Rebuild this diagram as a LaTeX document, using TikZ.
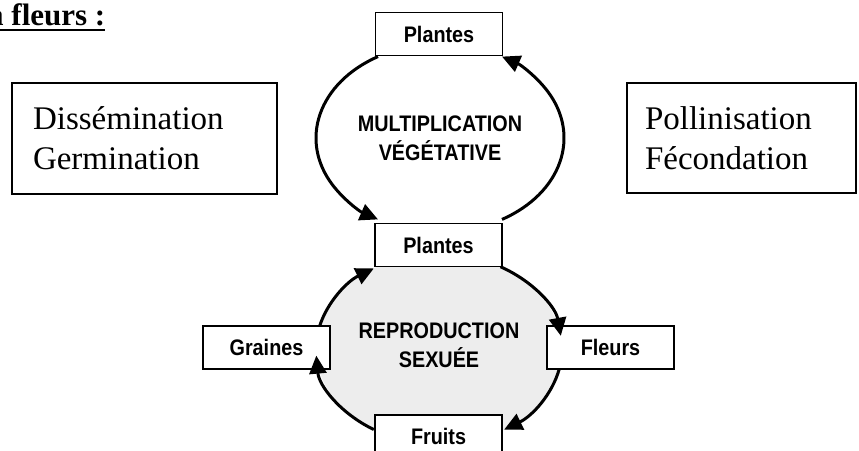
\documentclass[tikz,border=0pt]{standalone}
\usepackage{fontspec}
\setmainfont{Liberation Serif}
\newfontfamily\arialfont[FakeStretch=0.88]{Liberation Sans}
\usepackage{xcolor}
\usepackage{tikz}
\usetikzlibrary{arrows.meta}
\usetikzlibrary{calc}
\usetikzlibrary{positioning}
\definecolor{fond}{RGB}{237,237,237}

\tikzset{
	etape/.style={draw,line width=1.5,fill=white,minimum width=127,minimum height=43,inner sep=0,font=\arialfont\bfseries\fontsize{22.5}{26}\selectfont},
	texte/.style={draw,line width=1.5,align=left,inner xsep=0,font=\fontsize{33}{40}\selectfont},
	cycletitre/.style={align=center,inner sep=0,font=\arialfont\bfseries\fontsize{22.5}{29}\selectfont},
	fleche/.style={line width=3,-{Triangle[length=18pt,width=17pt]}}
}

\begin{document}
\begin{tikzpicture}[x=1pt,y=-1pt]
	\useasboundingbox (0,0) rectangle (859,450);
	
	\coordinate (CH) at (440,138);
	\coordinate (CB) at (439,349);
	\fill[fond] (CB) ellipse[x radius=123,y radius=95];
	
	\node[anchor=base west,inner sep=0,font=\bfseries\fontsize{31}{36}\selectfont] (titre) at (-12,25) {a fleurs :};
	\draw[line width=2.5] ([yshift=-5pt]titre.base west) -- ([yshift=-5pt]titre.base east);
	
	\node[texte,text width=223,minimum width=265,minimum height=111] (dissem) at (144.5,138.5) {Dissémination\\Germination};
	\node[texte,text width=193,minimum width=229,minimum height=110] (pollin) at (741.5,138) {Pollinisation\\Fécondation};
	
	\node[etape] (plantesH) at (439,34) {Plantes};
	\node[etape] (plantesB) at (438.5,245) {Plantes};
	\node[etape] (graines) at (266.5,347.5) {Graines};
	\node[etape] (fleurs) at (610.5,347.5) {Fleurs};
	\node[etape] (fruits) at (438.5,436.5) {Fruits};
	
	\node[cycletitre] (multi) at (CH) {MULTIPLICATION\\VÉGÉTATIVE};
	\node[cycletitre] (repro) at (439,345) {REPRODUCTION\\SEXUÉE};
	
	% multiplication vegetative
	\draw[fleche] ($(CH)+(240:124 and 94)$) arc[start angle=240,end angle=120,x radius=124,y radius=94];
	\draw[fleche] ($(CH)+(60:124 and 94)$) arc[start angle=60,end angle=-60,x radius=124,y radius=94];
	
	% reproduction sexuee
	\draw[fleche] ($(CB)+(-60:123 and 95)$) arc[start angle=-60,end angle=-8,x radius=123,y radius=95];
	\draw[fleche] ($(CB)+(12:123 and 95)$) arc[start angle=12,end angle=58,x radius=123,y radius=95];
	\draw[fleche] ($(CB)+(122:123 and 95)$) arc[start angle=122,end angle=176,x radius=123,y radius=95];
	\draw[fleche] ($(CB)+(194:123 and 95)$) arc[start angle=194,end angle=238,x radius=123,y radius=95];
	
\end{tikzpicture}
\end{document}
